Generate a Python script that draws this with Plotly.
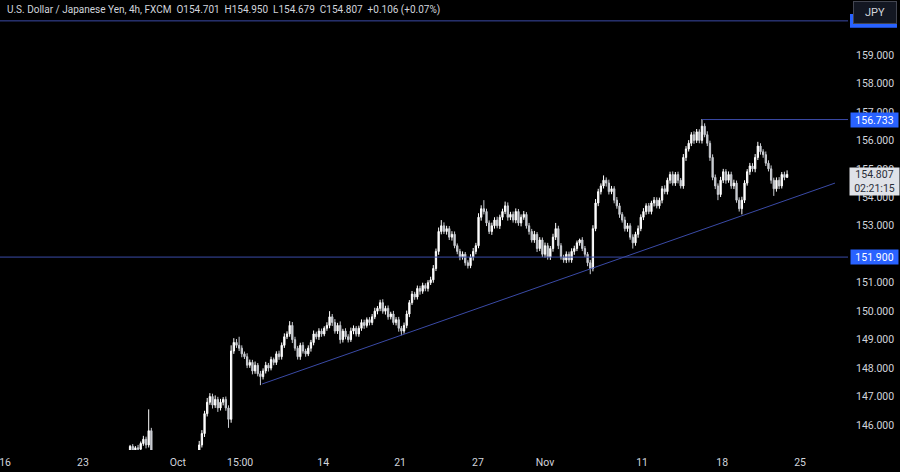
import plotly.graph_objects as go

# ---------------- data (USD/JPY, 4h candles) ----------------
first_open = 144.90
closes = [
    145.25, 145.10, 145.20, 145.15, 145.35, 145.50, 145.30, 145.80, 144.90, 143.20,
    142.50, 142.30, 142.60, 142.90, 143.30, 143.80, 144.10, 143.60, 143.70, 143.90,
    144.40, 144.10, 143.80, 143.90, 144.20, 144.60, 145.30, 145.70, 146.40, 146.80,
    147.00, 146.70, 146.90, 146.60, 146.80, 146.90, 146.60, 146.20, 148.60, 148.90,
    148.80, 148.70, 148.50, 148.40, 148.10, 148.20, 147.90, 148.10, 147.80, 147.70,
    147.90, 148.10, 148.00, 148.30, 148.20, 148.50, 148.40, 148.80, 149.10, 149.20,
    149.50, 149.00, 148.70, 148.40, 148.80, 148.60, 148.50, 148.70, 148.90, 149.20,
    149.10, 149.30, 149.20, 149.40, 149.50, 149.80, 149.60, 149.30, 149.50, 149.00,
    149.30, 149.10, 149.00, 149.30, 149.40, 149.20, 149.40, 149.60, 149.50, 149.70,
    149.60, 149.80, 150.00, 150.10, 150.30, 150.00, 150.10, 149.80, 149.90, 149.60,
    149.70, 149.40, 149.30, 149.50, 149.90, 150.30, 150.60, 150.50, 150.80, 150.70,
    150.90, 150.80, 151.00, 151.10, 151.50, 152.10, 152.80, 153.00, 152.80, 152.90,
    152.60, 152.70, 152.30, 152.10, 151.90, 152.00, 151.70, 151.60, 151.90, 152.10,
    152.30, 153.30, 153.60, 153.50, 153.10, 152.80, 153.00, 153.20, 153.00, 153.30,
    153.50, 153.70, 153.30, 153.40, 153.20, 153.50, 153.10, 153.30, 153.40, 153.00,
    152.80, 152.50, 152.70, 152.20, 152.50, 152.00, 152.30, 151.90, 152.20, 152.60,
    152.90, 152.30, 151.90, 151.80, 152.00, 151.80, 152.10, 152.20, 152.40, 152.50,
    152.20, 152.00, 151.70, 151.50, 152.90, 153.80, 154.20, 154.40, 154.60, 154.50,
    154.20, 154.30, 153.90, 153.70, 153.40, 153.20, 152.90, 153.00, 152.60, 152.40,
    152.70, 152.90, 153.30, 153.50, 153.70, 153.50, 153.80, 153.90, 153.70, 153.90,
    154.30, 154.20, 154.60, 154.80, 154.50, 154.80, 154.60, 154.40, 155.40, 155.70,
    155.90, 156.20, 156.00, 156.30, 156.00, 156.50, 156.20, 155.90, 155.40, 154.70,
    154.40, 154.10, 154.60, 154.90, 154.60, 154.80, 154.40, 154.50, 153.90, 153.60,
    153.90, 154.50, 154.90, 155.10, 155.00, 155.40, 155.80, 155.60, 155.50, 155.20,
    155.00, 154.60, 154.30, 154.60, 154.40, 154.80, 154.701, 154.807,
]
# upper / lower wick lengths in hundredths of a yen
wick_hi = [
    5, 8, 6, 10, 7, 12, 9, 75, 10, 15,
    20, 12, 8, 10, 15, 9, 12, 10, 8, 14,
    10, 12, 9, 8, 11, 10, 14, 12, 10, 15,
    12, 10, 14, 9, 12, 8, 10, 9, 20, 15,
    12, 30, 10, 8, 12, 10, 9, 13, 8, 10,
    9, 12, 8, 10, 7, 9, 11, 10, 12, 9,
    15, 12, 10, 8, 9, 11, 8, 10, 9, 12,
    8, 10, 9, 7, 11, 20, 10, 12, 9, 14,
    8, 10, 9, 12, 10, 8, 9, 11, 10, 8,
    9, 10, 12, 8, 10, 12, 9, 10, 8, 11,
    9, 10, 8, 10, 12, 9, 11, 8, 10, 9,
    10, 8, 9, 11, 12, 10, 14, 20, 12, 10,
    9, 11, 10, 8, 9, 10, 8, 9, 10, 12,
    10, 14, 12, 30, 10, 9, 11, 10, 12, 9,
    10, 15, 12, 9, 10, 11, 9, 10, 12, 8,
    10, 9, 12, 8, 10, 9, 11, 10, 9, 12,
    20, 10, 9, 8, 10, 9, 11, 10, 8, 5,
    10, 9, 8, 10, 12, 14, 10, 9, 17, 10,
    12, 10, 9, 11, 10, 8, 12, 10, 9, 10,
    9, 11, 10, 12, 9, 10, 8, 11, 10, 9,
    10, 12, 9, 10, 11, 9, 10, 8, 12, 10,
    11, 9, 12, 10, 9, 25, 10, 12, 9, 11,
    10, 9, 12, 10, 9, 11, 10, 12, 9, 10,
    12, 10, 9, 11, 10, 12, 15, 10, 9, 11,
    10, 12, 9, 10, 11, 9, 10, 14,
]
wick_lo = [
    10, 8, 9, 6, 10, 8, 12, 9, 10, 20,
    25, 15, 12, 10, 9, 12, 10, 15, 9, 10,
    12, 10, 14, 9, 10, 12, 10, 9, 12, 10,
    9, 12, 10, 14, 9, 11, 10, 30, 12, 10,
    9, 10, 12, 8, 10, 9, 12, 10, 9, 30,
    10, 9, 12, 8, 10, 9, 11, 10, 9, 8,
    10, 12, 9, 10, 11, 9, 10, 8, 12, 10,
    9, 11, 10, 8, 9, 10, 12, 9, 10, 14,
    10, 9, 10, 8, 11, 9, 10, 9, 12, 8,
    10, 9, 8, 11, 10, 9, 12, 10, 9, 8,
    10, 12, 15, 9, 10, 11, 8, 10, 9, 12,
    9, 10, 11, 8, 10, 9, 12, 10, 9, 11,
    10, 12, 9, 10, 11, 9, 10, 10, 9, 12,
    10, 9, 12, 10, 11, 9, 12, 10, 9, 11,
    10, 9, 12, 10, 9, 11, 10, 12, 9, 10,
    11, 9, 10, 12, 9, 10, 12, 9, 10, 11,
    10, 12, 9, 10, 11, 9, 10, 12, 9, 10,
    9, 10, 12, 20, 10, 9, 11, 10, 9, 12,
    10, 9, 11, 10, 12, 9, 10, 11, 9, 20,
    10, 12, 9, 10, 11, 9, 10, 12, 9, 10,
    11, 9, 10, 12, 9, 10, 11, 9, 10, 12,
    9, 10, 12, 9, 10, 11, 9, 10, 12, 10,
    11, 20, 9, 10, 12, 9, 10, 11, 9, 10,
    20, 10, 9, 11, 10, 12, 9, 10, 11, 10,
    9, 12, 25, 10, 11, 9, 10, 2,
]
assert len(closes) == len(wick_hi) == len(wick_lo), (len(closes), len(wick_hi), len(wick_lo))

# time-axis labels (positions in candle-index units)
tick_pos = [-47, -17.7, 18, 41.4, 72.6, 101.5, 130.8, 156, 192.5, 222.6, 251.9]
tick_text = ["16", "23", "Oct", "15:00", "14", "21", "27", "Nov", "11", "18", "25"]
price_ticks = [146, 147, 148, 149, 150, 151, 152, 153, 154, 155, 156, 157, 158, 159]

# drawn levels
level_top = 160.20
level_high = 156.733
level_high_start = 215
level_support = 151.900
trend_pts = [(49.6, 147.44), (265.0, 154.50)]

title_text = ("U.S. Dollar / Japanese Yen, 4h, FXCM\u00a0 O154.701\u00a0 H154.950"
              "\u00a0 L154.679\u00a0 C154.807\u00a0 +0.106 (+0.07%)")
last_price = 154.807
countdown = "02:21:15"

# ---------------- build ----------------
idx = list(range(len(closes)))
opens = [first_open] + closes[:-1]
highs = [max(o, c) + w / 100 for o, c, w in zip(opens, closes, wick_hi)]
lows = [min(o, c) - w / 100 for o, c, w in zip(opens, closes, wick_lo)]

LINE = "#3a4aa6"
TXT = "#d1d4dc"
FONT = "Roboto, Liberation Sans, sans-serif"
PW = 848.0  # plot width in px

fig = go.Figure(go.Candlestick(
    x=idx, open=opens, high=highs, low=lows, close=closes,
    increasing=dict(line=dict(color="#ffffff", width=1), fillcolor="#ffffff"),
    decreasing=dict(line=dict(color="#c9ccd2", width=1), fillcolor="#c9ccd2"),
    whiskerwidth=0, hoverinfo="skip", showlegend=False,
))

shapes = [
    dict(type="line", xref="paper", x0=0, x1=1, yref="y", y0=level_top, y1=level_top,
         line=dict(color=LINE, width=1)),
    dict(type="line", xref="paper", x0=0, x1=1, yref="y", y0=level_support, y1=level_support,
         line=dict(color=LINE, width=1)),
    dict(type="line", xref="x", x0=level_high_start, x1=400, yref="y", y0=level_high, y1=level_high,
         line=dict(color=LINE, width=1)),
    dict(type="line", xref="x", x0=trend_pts[0][0], x1=trend_pts[1][0], yref="y",
         y0=trend_pts[0][1], y1=trend_pts[1][1], line=dict(color=LINE, width=1)),
    # blue label of the top level (mostly hidden under the currency button)
    dict(type="rect", xref="paper", x0=850 / PW, x1=897 / PW, yref="y",
         y0=level_top - 0.24, y1=level_top + 0.24, fillcolor="#2962ff", line=dict(width=0),
         layer="above"),
]

annotations = [
    dict(text=title_text, xref="paper", yref="paper", x=0, y=1, xanchor="left", yanchor="middle",
         xshift=5, yshift=-10, showarrow=False, font=dict(family=FONT, size=10, color=TXT)),
    dict(text="JPY", xref="paper", yref="paper", x=897 / PW, y=1, xanchor="right", yanchor="top",
         yshift=-1, showarrow=False, bgcolor="#131722", bordercolor="#434651", borderwidth=1,
         borderpad=2, width=38, height=17, font=dict(family=FONT, size=11, color=TXT)),
    dict(text=f"{level_high:.3f}", xref="paper", yref="y", x=850 / PW, y=level_high,
         xanchor="left", yanchor="middle", showarrow=False, bgcolor="#2962ff", borderpad=1,
         width=45, height=12, font=dict(family=FONT, size=10.5, color="#ffffff")),
    dict(text=f"{level_support:.3f}", xref="paper", yref="y", x=850 / PW, y=level_support,
         xanchor="left", yanchor="middle", showarrow=False, bgcolor="#2962ff", borderpad=1,
         width=45, height=12, font=dict(family=FONT, size=10.5, color="#ffffff")),
    dict(text=f"{last_price:.3f}<br>{countdown}", xref="paper", yref="y", x=849 / PW, y=last_price,
         xanchor="left", yanchor="top", yshift=7, showarrow=False, bgcolor="#dfe2e8",
         borderpad=1, width=47, height=25, font=dict(family=FONT, size=10.5, color="#2a2e39")),
]

fig.update_layout(
    width=900, height=472,
    margin=dict(l=0, r=52, t=0, b=22),
    paper_bgcolor="#000000", plot_bgcolor="#000000",
    shapes=shapes, annotations=annotations,
    xaxis=dict(range=[-48.9, 269.9], tickvals=tick_pos, ticktext=tick_text, showgrid=False,
               zeroline=False, showline=False, ticks="", rangeslider=dict(visible=False),
               ticklabeloverflow="allow", ticklabelstandoff=4,
               tickfont=dict(family=FONT, size=10.5, color=TXT), fixedrange=True),
    yaxis=dict(range=[145.122, 160.933], side="right", tickvals=price_ticks,
               ticktext=[f"{v:.3f}" for v in price_ticks], showgrid=False, zeroline=False,
               showline=False, ticks="", ticklabelstandoff=7,
               tickfont=dict(family=FONT, size=10.5, color=TXT), fixedrange=True),
    font=dict(family=FONT, color=TXT),
)

fig.write_html("out.html", config=dict(displayModeBar=False),
               post_script="document.body.style.margin='0';document.body.style.overflow='hidden';")
